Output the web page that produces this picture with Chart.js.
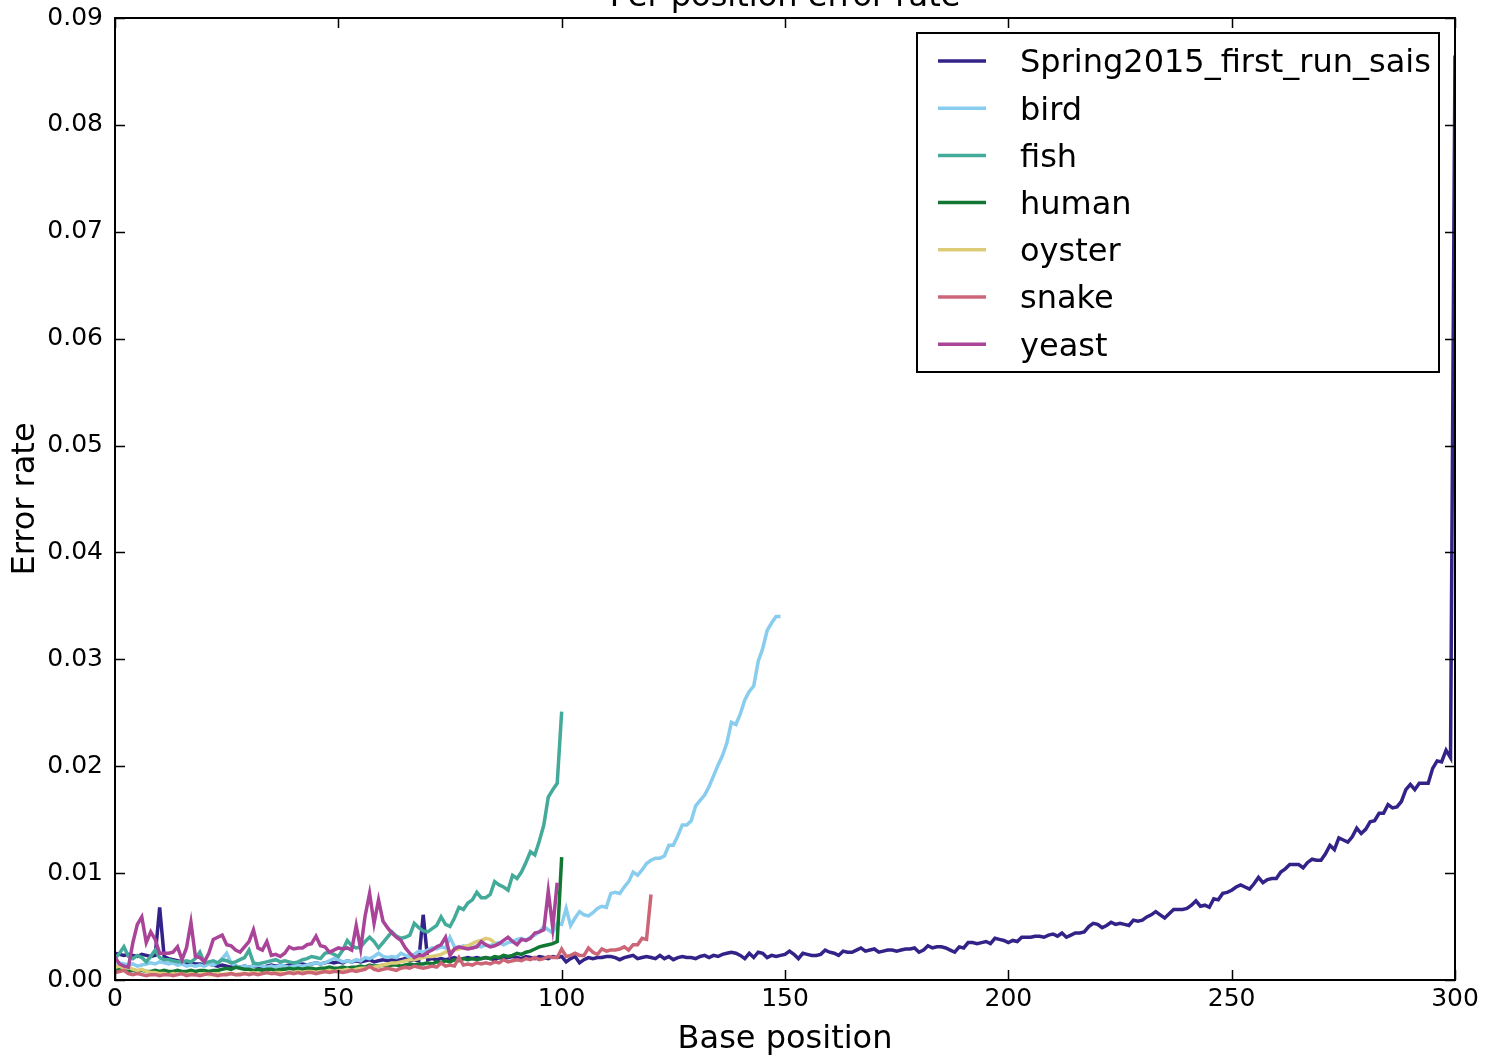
<!DOCTYPE html>
<html>
<head>
<meta charset="utf-8">
<title>Per position error rate</title>
<script src="https://cdn.jsdelivr.net/npm/chart.js@4.4.1/dist/chart.umd.min.js"></script>
<style>
  html, body { margin: 0; padding: 0; background: #fff; }
  #wrap { width: 1491px; height: 1060px; }
</style>
</head>
<body>
<div id="wrap"><canvas id="chart" width="1491" height="1060"></canvas></div>
<script>
// series names / colours (legend order)
const seriesNames = ['Spring2015_first_run_sais', 'bird', 'fish', 'human', 'oyster', 'snake', 'yeast'];
const seriesColors = ['#332288', '#88CCEE', '#44AA99', '#117733', '#DDCC77', '#CC6677', '#AA4499'];

// error rate per base position, index = position
const spring = [
  0.0025, 0.0024, 0.0023, 0.0024, 0.0023, 0.0022, 0.0024, 0.0023, 0.0022, 0.0023,
  0.0068, 0.0022, 0.0020, 0.0019, 0.0018, 0.0017, 0.0016, 0.0016, 0.0015, 0.0015,
  0.0014, 0.0015, 0.0014, 0.0013, 0.0014, 0.0013, 0.0012, 0.0013, 0.0012, 0.0013,
  0.0012, 0.0013, 0.0013, 0.0012, 0.0013, 0.0014, 0.0013, 0.0014, 0.0013, 0.0014,
  0.0015, 0.0014, 0.0015, 0.0014, 0.0015, 0.0016, 0.0015, 0.0016, 0.0017, 0.0016,
  0.0017, 0.0016, 0.0018, 0.0017, 0.0018, 0.0017, 0.0018, 0.0019, 0.0017, 0.0018,
  0.0019, 0.0018, 0.0019, 0.0018, 0.0019, 0.0020, 0.0018, 0.0019, 0.0018, 0.0061,
  0.0019, 0.0020, 0.0019, 0.0020, 0.0019, 0.0020, 0.0021, 0.0019, 0.0020, 0.0021,
  0.0020, 0.0021, 0.0020, 0.0021, 0.0020, 0.0019, 0.0021, 0.0020, 0.0021, 0.0022,
  0.0021, 0.0020, 0.0022, 0.0021, 0.0020, 0.0022, 0.0021, 0.0020, 0.0022, 0.0021,
  0.0022, 0.0017, 0.0020, 0.0022, 0.0016, 0.0019, 0.0021, 0.0020, 0.0021, 0.0021,
  0.0022, 0.0022, 0.0021, 0.0019, 0.0021, 0.0022, 0.0023, 0.0020, 0.0021, 0.0022,
  0.0021, 0.0020, 0.0023, 0.0020, 0.0022, 0.0019, 0.0021, 0.0022, 0.0021, 0.0021,
  0.0020, 0.0022, 0.0023, 0.0021, 0.0023, 0.0022, 0.0024, 0.0025, 0.0026, 0.0025,
  0.0023, 0.0020, 0.0025, 0.0021, 0.0026, 0.0025, 0.0021, 0.0023, 0.0022, 0.0023,
  0.0024, 0.0027, 0.0024, 0.0020, 0.0025, 0.0024, 0.0023, 0.0023, 0.0024, 0.0028,
  0.0026, 0.0025, 0.0023, 0.0027, 0.0026, 0.0026, 0.0028, 0.0030, 0.0027, 0.0028,
  0.0029, 0.0026, 0.0027, 0.0028, 0.0028, 0.0027, 0.0028, 0.0029, 0.0029, 0.0030,
  0.0026, 0.0028, 0.0032, 0.0030, 0.0031, 0.0031, 0.0030, 0.0028, 0.0026, 0.0031,
  0.0030, 0.0035, 0.0035, 0.0034, 0.0035, 0.0036, 0.0034, 0.0039, 0.0038, 0.0037,
  0.0035, 0.0037, 0.0036, 0.0040, 0.0040, 0.0040, 0.0041, 0.0041, 0.0040, 0.0042,
  0.0043, 0.0041, 0.0044, 0.0040, 0.0042, 0.0044, 0.0044, 0.0045, 0.0050, 0.0053,
  0.0052, 0.0049, 0.0051, 0.0054, 0.0052, 0.0053, 0.0052, 0.0051, 0.0056, 0.0055,
  0.0056, 0.0059, 0.0061, 0.0064, 0.0061, 0.0058, 0.0062, 0.0066, 0.0066, 0.0066,
  0.0067, 0.0070, 0.0074, 0.0069, 0.0070, 0.0068, 0.0076, 0.0075, 0.0081, 0.0082,
  0.0084, 0.0087, 0.0089, 0.0087, 0.0085, 0.0090, 0.0096, 0.0091, 0.0094, 0.0095,
  0.0095, 0.0101, 0.0104, 0.0108, 0.0108, 0.0108, 0.0105, 0.0110, 0.0113, 0.0112,
  0.0112, 0.0118, 0.0126, 0.0122, 0.0133, 0.0131, 0.0129, 0.0134, 0.0142, 0.0137,
  0.0141, 0.0148, 0.0149, 0.0156, 0.0156, 0.0164, 0.0161, 0.0162, 0.0167, 0.0178,
  0.0183, 0.0178, 0.0184, 0.0184, 0.0184, 0.0198, 0.0205, 0.0204, 0.0215, 0.0208,
  0.0865
];
const bird = [
  0.0014, 0.0016, 0.0015, 0.0014, 0.0015, 0.0013, 0.0014, 0.0015, 0.0016, 0.0015,
  0.0017, 0.0016, 0.0015, 0.0016, 0.0014, 0.0015, 0.0013, 0.0014, 0.0013, 0.0014,
  0.0013, 0.0015, 0.0014, 0.0016, 0.0020, 0.0025, 0.0016, 0.0013, 0.0012, 0.0013,
  0.0012, 0.0013, 0.0014, 0.0013, 0.0012, 0.0013, 0.0012, 0.0014, 0.0013, 0.0012,
  0.0013, 0.0014, 0.0013, 0.0014, 0.0015, 0.0016, 0.0015, 0.0016, 0.0018, 0.0020,
  0.0019, 0.0017, 0.0018, 0.0017, 0.0019, 0.0018, 0.0021, 0.0020, 0.0022, 0.0025,
  0.0022, 0.0021, 0.0022, 0.0021, 0.0025, 0.0023, 0.0022, 0.0024, 0.0027, 0.0026,
  0.0028, 0.0030, 0.0029, 0.0031, 0.0030, 0.0040, 0.0031, 0.0030, 0.0032, 0.0031,
  0.0030, 0.0032, 0.0031, 0.0033, 0.0032, 0.0034, 0.0035, 0.0033, 0.0035, 0.0036,
  0.0038, 0.0039, 0.0037, 0.0040, 0.0042, 0.0045, 0.0050, 0.0047, 0.0044, 0.0053,
  0.0052, 0.0067, 0.0051, 0.0058, 0.0064, 0.0061, 0.0060, 0.0063, 0.0067, 0.0069,
  0.0068, 0.0081, 0.0082, 0.0081, 0.0087, 0.0092, 0.0101, 0.0098, 0.0103, 0.0109,
  0.0112, 0.0114, 0.0114, 0.0116, 0.0126, 0.0126, 0.0135, 0.0145, 0.0145, 0.0149,
  0.0163, 0.0168, 0.0173, 0.0181, 0.0191, 0.0201, 0.0210, 0.0222, 0.0241, 0.0239,
  0.0249, 0.0262, 0.0270, 0.0275, 0.0298, 0.0310, 0.0327, 0.0334, 0.0340, 0.0340
];
const fish = [
  0.0020, 0.0025, 0.0031, 0.0022, 0.0020, 0.0023, 0.0021, 0.0017, 0.0022, 0.0028,
  0.0021, 0.0019, 0.0019, 0.0018, 0.0017, 0.0017, 0.0018, 0.0017, 0.0020, 0.0026,
  0.0016, 0.0017, 0.0018, 0.0016, 0.0019, 0.0018, 0.0016, 0.0017, 0.0019, 0.0021,
  0.0028, 0.0016, 0.0015, 0.0016, 0.0017, 0.0018, 0.0019, 0.0017, 0.0018, 0.0017,
  0.0016, 0.0017, 0.0019, 0.0020, 0.0022, 0.0021, 0.0020, 0.0025, 0.0026, 0.0024,
  0.0022, 0.0028, 0.0037, 0.0032, 0.0030, 0.0031, 0.0036, 0.0040, 0.0036, 0.0030,
  0.0035, 0.0040, 0.0045, 0.0041, 0.0039, 0.0040, 0.0042, 0.0053, 0.0049, 0.0046,
  0.0045, 0.0048, 0.0051, 0.0059, 0.0052, 0.0050, 0.0058, 0.0068, 0.0066, 0.0072,
  0.0075, 0.0082, 0.0077, 0.0077, 0.0080, 0.0092, 0.0089, 0.0087, 0.0084, 0.0098,
  0.0095, 0.0101, 0.0110, 0.0120, 0.0117, 0.0130, 0.0145, 0.0171, 0.0178, 0.0184,
  0.0251
];
const human = [
  0.0009, 0.0010, 0.0009, 0.0008, 0.0009, 0.0008, 0.0009, 0.0008, 0.0008, 0.0009,
  0.0008, 0.0009, 0.0008, 0.0008, 0.0009, 0.0008, 0.0008, 0.0009, 0.0008, 0.0009,
  0.0009, 0.0008, 0.0009, 0.0009, 0.0010, 0.0011, 0.0010, 0.0012, 0.0011, 0.0010,
  0.0010, 0.0009, 0.0010, 0.0009, 0.0010, 0.0010, 0.0009, 0.0010, 0.0010, 0.0011,
  0.0010, 0.0011, 0.0010, 0.0011, 0.0011, 0.0010, 0.0011, 0.0011, 0.0012, 0.0011,
  0.0011, 0.0012, 0.0011, 0.0012, 0.0012, 0.0013, 0.0012, 0.0014, 0.0013, 0.0013,
  0.0014, 0.0013, 0.0014, 0.0014, 0.0013, 0.0014, 0.0015, 0.0014, 0.0015, 0.0015,
  0.0016, 0.0015, 0.0017, 0.0016, 0.0018, 0.0017, 0.0019, 0.0018, 0.0020, 0.0019,
  0.0020, 0.0019, 0.0020, 0.0021, 0.0020, 0.0022, 0.0021, 0.0023, 0.0022, 0.0023,
  0.0025, 0.0024, 0.0026, 0.0027, 0.0029, 0.0031, 0.0032, 0.0033, 0.0034, 0.0036,
  0.0115
];
const oyster = [
  0.0012, 0.0013, 0.0011, 0.0012, 0.0010, 0.0009, 0.0010, 0.0008, 0.0007, 0.0007,
  0.0006, 0.0006, 0.0005, 0.0006, 0.0005, 0.0006, 0.0005, 0.0006, 0.0005, 0.0005,
  0.0006, 0.0005, 0.0005, 0.0006, 0.0005, 0.0006, 0.0006, 0.0005, 0.0006, 0.0006,
  0.0006, 0.0007, 0.0006, 0.0006, 0.0007, 0.0006, 0.0007, 0.0007, 0.0006, 0.0007,
  0.0007, 0.0008, 0.0007, 0.0008, 0.0008, 0.0007, 0.0008, 0.0008, 0.0009, 0.0008,
  0.0009, 0.0009, 0.0010, 0.0009, 0.0010, 0.0011, 0.0011, 0.0012, 0.0012, 0.0013,
  0.0014, 0.0015, 0.0016, 0.0016, 0.0017, 0.0018, 0.0019, 0.0019, 0.0020, 0.0021,
  0.0022, 0.0022, 0.0023, 0.0024, 0.0026, 0.0027, 0.0028, 0.0029, 0.0031, 0.0032,
  0.0034, 0.0036, 0.0037, 0.0039, 0.0038, 0.0035
];
const snake = [
  0.0007, 0.0008, 0.0009, 0.0006, 0.0005, 0.0006, 0.0005, 0.0004, 0.0005, 0.0005,
  0.0004, 0.0005, 0.0005, 0.0004, 0.0005, 0.0006, 0.0004, 0.0005, 0.0005, 0.0004,
  0.0005, 0.0006, 0.0005, 0.0004, 0.0005, 0.0005, 0.0006, 0.0005, 0.0005, 0.0006,
  0.0005, 0.0006, 0.0005, 0.0006, 0.0007, 0.0006, 0.0006, 0.0005, 0.0006, 0.0007,
  0.0006, 0.0007, 0.0006, 0.0007, 0.0007, 0.0006, 0.0007, 0.0008, 0.0007, 0.0008,
  0.0008, 0.0007, 0.0008, 0.0009, 0.0008, 0.0009, 0.0010, 0.0013, 0.0010, 0.0009,
  0.0010, 0.0011, 0.0010, 0.0009, 0.0011, 0.0012, 0.0011, 0.0013, 0.0012, 0.0011,
  0.0012, 0.0013, 0.0012, 0.0016, 0.0013, 0.0014, 0.0013, 0.0021, 0.0014, 0.0015,
  0.0014, 0.0016, 0.0015, 0.0016, 0.0015, 0.0017, 0.0016, 0.0019, 0.0017, 0.0018,
  0.0019, 0.0018, 0.0020, 0.0019, 0.0021, 0.0019, 0.0020, 0.0022, 0.0021, 0.0021,
  0.0029, 0.0022, 0.0023, 0.0025, 0.0023, 0.0023, 0.0030, 0.0026, 0.0024, 0.0029,
  0.0027, 0.0028, 0.0028, 0.0029, 0.0031, 0.0028, 0.0033, 0.0033, 0.0039, 0.0038,
  0.0080
];
const yeast = [
  0.0021, 0.0015, 0.0013, 0.0012, 0.0035, 0.0052, 0.0059, 0.0035, 0.0045, 0.0038,
  0.0025, 0.0025, 0.0025, 0.0026, 0.0031, 0.0019, 0.0030, 0.0054, 0.0022, 0.0021,
  0.0017, 0.0025, 0.0038, 0.0040, 0.0042, 0.0033, 0.0032, 0.0028, 0.0026, 0.0031,
  0.0036, 0.0047, 0.0030, 0.0028, 0.0036, 0.0023, 0.0024, 0.0022, 0.0025, 0.0031,
  0.0029, 0.0030, 0.0030, 0.0033, 0.0034, 0.0041, 0.0032, 0.0031, 0.0026, 0.0028,
  0.0030, 0.0029, 0.0030, 0.0028, 0.0051, 0.0029, 0.0060, 0.0081, 0.0053, 0.0075,
  0.0055, 0.0049, 0.0044, 0.0040, 0.0037, 0.0030, 0.0025, 0.0021, 0.0023, 0.0023,
  0.0026, 0.0028, 0.0031, 0.0033, 0.0040, 0.0023, 0.0029, 0.0031, 0.0030, 0.0029,
  0.0030, 0.0031, 0.0036, 0.0033, 0.0031, 0.0032, 0.0034, 0.0037, 0.0040, 0.0036,
  0.0033, 0.0038, 0.0037, 0.0039, 0.0044, 0.0045, 0.0047, 0.0083, 0.0049, 0.0091
];

const xTicks = [0, 50, 100, 150, 200, 250, 300];
const yTicks = [0, 0.01, 0.02, 0.03, 0.04, 0.05, 0.06, 0.07, 0.08, 0.09];

const allSeries = [spring, bird, fish, human, oyster, snake, yeast];
const FONT = 'DejaVu Sans';

// matplotlib-like frame with inward ticks on all four sides
const framePlugin = {
    id: 'frame',
    afterDatasetsDraw(chart) {
        const { ctx, chartArea: a, scales } = chart;
        ctx.save();
        ctx.strokeStyle = '#000';
        ctx.lineWidth = 1.5;
        ctx.beginPath();
        xTicks.forEach(v => {
            const px = Math.round(scales.x.getPixelForValue(v)) + 0.5;
            ctx.moveTo(px, a.bottom); ctx.lineTo(px, a.bottom - 10);
            ctx.moveTo(px, a.top); ctx.lineTo(px, a.top + 10);
        });
        yTicks.forEach(v => {
            const py = Math.round(scales.y.getPixelForValue(v)) + 0.5;
            ctx.moveTo(a.left, py); ctx.lineTo(a.left + 10, py);
            ctx.moveTo(a.right, py); ctx.lineTo(a.right - 10, py);
        });
        ctx.stroke();
        ctx.lineWidth = 2;
        ctx.strokeRect(a.left, a.top, a.right - a.left, a.bottom - a.top);
        ctx.restore();
    }
};

// boxed legend in the upper right corner + clipped title
const legendPlugin = {
    id: 'boxLegend',
    afterDraw(chart) {
        const { ctx, chartArea: a } = chart;
        ctx.save();
        // title (mostly above the page edge)
        ctx.fillStyle = '#000';
        ctx.font = '32px "' + FONT + '"';
        ctx.textAlign = 'center';
        ctx.textBaseline = 'alphabetic';
        ctx.fillText('Per position error rate', (a.left + a.right) / 2, 6);

        const w = 522, h = 339;
        const x0 = a.right - 16 - w, y0 = a.top + 15;
        ctx.fillStyle = '#fff';
        ctx.fillRect(x0, y0, w, h);
        ctx.strokeStyle = '#000';
        ctx.lineWidth = 2;
        ctx.strokeRect(x0, y0, w, h);
        ctx.textAlign = 'left';
        ctx.textBaseline = 'middle';
        chart.data.datasets.forEach((ds, i) => {
            const cy = y0 + 28 + i * 47.2;
            ctx.strokeStyle = ds.borderColor;
            ctx.lineWidth = 3.5;
            ctx.beginPath();
            ctx.moveTo(x0 + 21, cy);
            ctx.lineTo(x0 + 69, cy);
            ctx.stroke();
            ctx.fillStyle = '#000';
            ctx.fillText(ds.label, x0 + 103, cy + 3);
        });
        ctx.restore();
    }
};

const datasets = seriesNames.map((name, i) => ({
    label: name,
    data: allSeries[i].map((v, pos) => ({ x: pos, y: v })),
    borderColor: seriesColors[i],
    backgroundColor: seriesColors[i],
    borderWidth: 3.5,
    pointRadius: 0,
    tension: 0,
    fill: false,
    order: seriesNames.length - i
}));

new Chart(document.getElementById('chart').getContext('2d'), {
    type: 'line',
    data: { datasets: datasets },
    options: {
        responsive: false,
        animation: false,
        parsing: false,
        layout: { padding: { top: 18, right: 36, left: 0, bottom: 0 } },
        plugins: {
            legend: { display: false },
            title: { display: false },
            tooltip: { enabled: false }
        },
        scales: {
            x: {
                type: 'linear',
                min: 0,
                max: 300,
                afterBuildTicks: s => { s.ticks = xTicks.map(v => ({ value: v })); },
                afterFit: s => { s.height = 80; s.paddingLeft = 0; s.paddingRight = 0; },
                grid: { display: false, drawTicks: false },
                border: { display: false },
                ticks: { color: '#000', padding: 4, maxRotation: 0, font: { family: FONT, size: 25 } },
                title: { display: true, text: 'Base position', color: '#000', padding: { top: 0, bottom: 1 }, font: { family: FONT, size: 32 } }
            },
            y: {
                type: 'linear',
                min: 0,
                max: 0.09,
                afterBuildTicks: s => { s.ticks = yTicks.map(v => ({ value: v })); },
                afterFit: s => { s.width = 115; s.paddingTop = 0; s.paddingBottom = 0; },
                grid: { display: false, drawTicks: false },
                border: { display: false },
                ticks: { color: '#000', padding: 12, callback: v => v.toFixed(2), font: { family: FONT, size: 25 } },
                title: { display: true, text: 'Error rate', color: '#000', padding: { top: 6, bottom: 0 }, font: { family: FONT, size: 32 } }
            }
        }
    },
    plugins: [framePlugin, legendPlugin]
});
</script>
</body>
</html>
